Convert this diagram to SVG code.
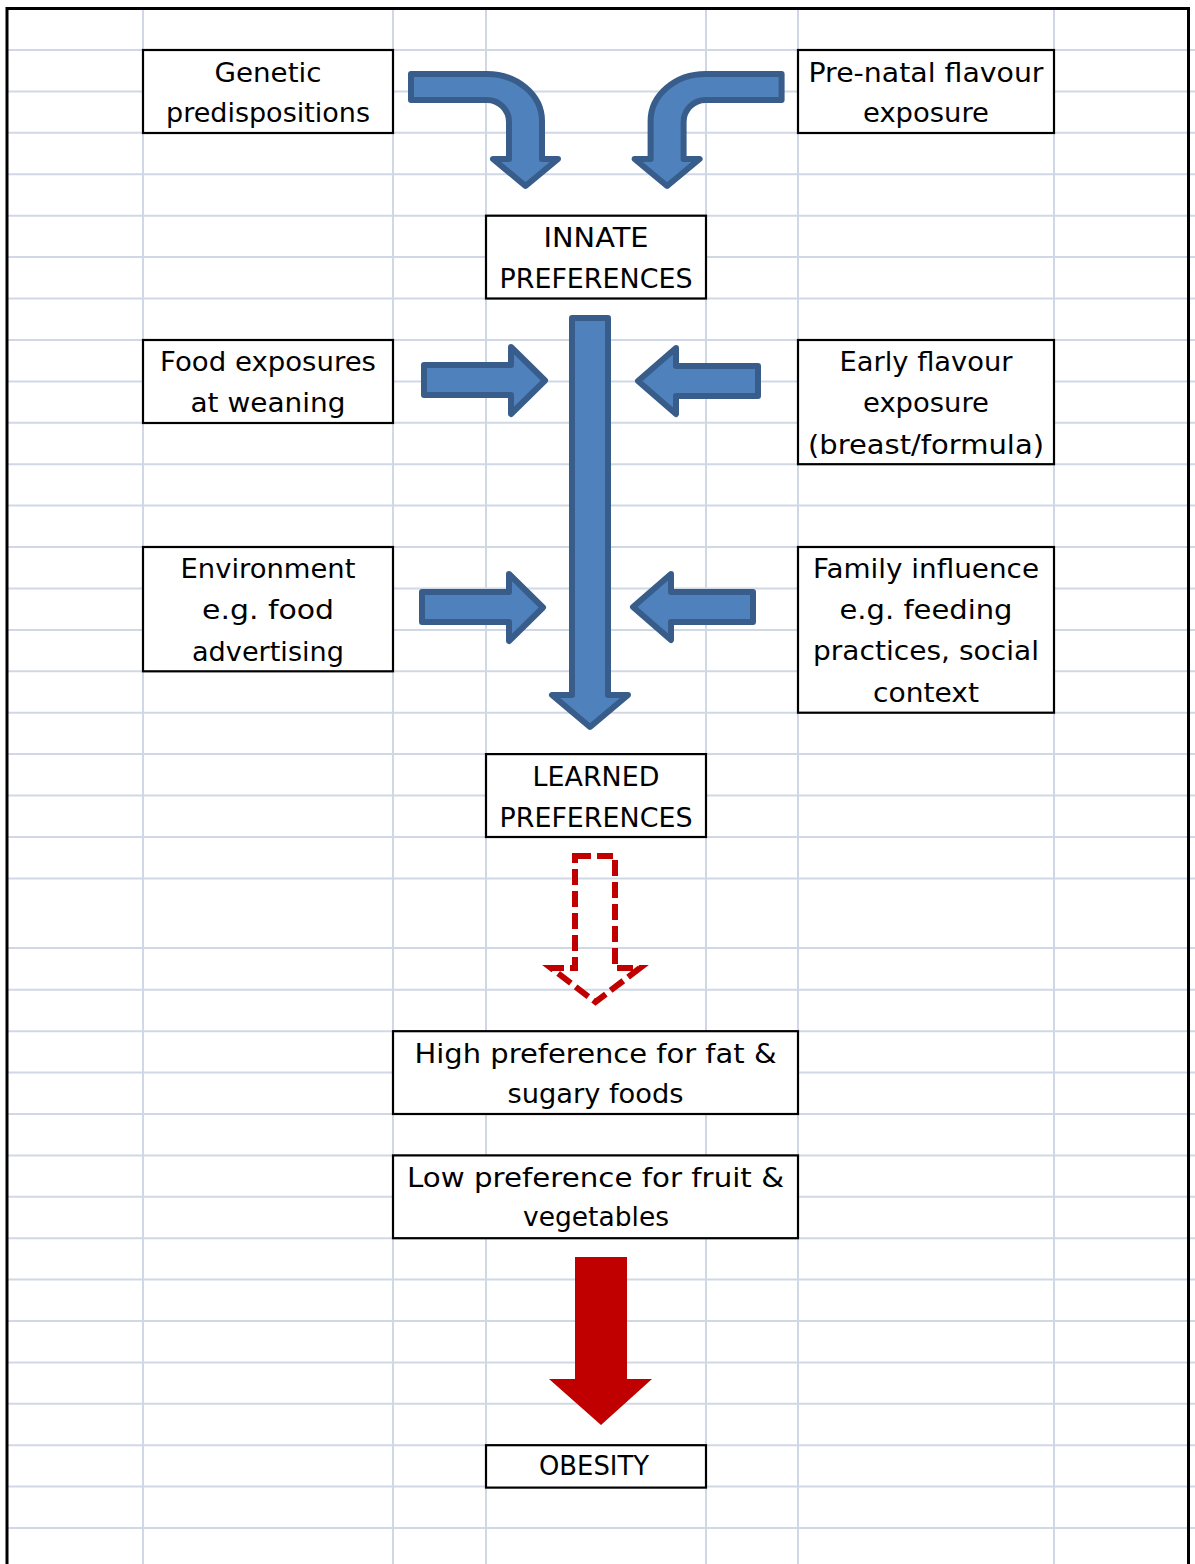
<svg xmlns="http://www.w3.org/2000/svg" width="1195" height="1564" viewBox="0 0 1195 1564">
  <style>
    .grid line { stroke: #D0D7E5; stroke-width: 2; }
    .frame { stroke: #000; stroke-width: 3; fill: none; }
    .box { fill: #fff; stroke: #000; stroke-width: 2.2; }
    .label { font-family: "DejaVu Sans", Verdana, sans-serif; font-size: 26px; fill: #000; text-anchor: middle; }
    .blue { fill: #4F81BD; stroke: #385D8A; stroke-width: 6; stroke-linejoin: round; }
    .dashed { fill: none; stroke: #C00000; stroke-width: 6; stroke-dasharray: 16 6; }
    .red { fill: #C00000; stroke: none; }
  </style>
  <defs>
    <path id="arrow-right" d="M424,365 H511 V347 L545,380.5 L511,414 V395 H424 Z"/>
    <path id="arrow-left" d="M758,366 H676 V348 L638,381 L676,414 V396 H758 Z"/>
    <path id="arrow-bent" d="M411,74 L487,74 A55,47 0 0 1 542,121 L542,159 L558,159 L525.5,186 L493,159 L509,159 L509,122 A22,22 0 0 0 487,100 L411,100 Z"/>
  </defs>

  <rect width="1195" height="1564" fill="#fff"/>

  <!-- sheet gridlines -->
  <g class="grid">
    <line x1="143" y1="8" x2="143" y2="1564"/>
    <line x1="393" y1="8" x2="393" y2="1564"/>
    <line x1="486" y1="8" x2="486" y2="1564"/>
    <line x1="706" y1="8" x2="706" y2="1564"/>
    <line x1="798" y1="8" x2="798" y2="1564"/>
    <line x1="1054" y1="8" x2="1054" y2="1564"/>
    <line x1="7" y1="50" x2="1195" y2="50"/>
    <line x1="7" y1="91.4" x2="1195" y2="91.4"/>
    <line x1="7" y1="132.8" x2="1195" y2="132.8"/>
    <line x1="7" y1="174.3" x2="1195" y2="174.3"/>
    <line x1="7" y1="215.7" x2="1195" y2="215.7"/>
    <line x1="7" y1="257.1" x2="1195" y2="257.1"/>
    <line x1="7" y1="298.5" x2="1195" y2="298.5"/>
    <line x1="7" y1="339.9" x2="1195" y2="339.9"/>
    <line x1="7" y1="381.4" x2="1195" y2="381.4"/>
    <line x1="7" y1="422.8" x2="1195" y2="422.8"/>
    <line x1="7" y1="464.2" x2="1195" y2="464.2"/>
    <line x1="7" y1="505.6" x2="1195" y2="505.6"/>
    <line x1="7" y1="547" x2="1195" y2="547"/>
    <line x1="7" y1="588.5" x2="1195" y2="588.5"/>
    <line x1="7" y1="629.9" x2="1195" y2="629.9"/>
    <line x1="7" y1="671.3" x2="1195" y2="671.3"/>
    <line x1="7" y1="712.7" x2="1195" y2="712.7"/>
    <line x1="7" y1="754.1" x2="1195" y2="754.1"/>
    <line x1="7" y1="795.6" x2="1195" y2="795.6"/>
    <line x1="7" y1="837" x2="1195" y2="837"/>
    <line x1="7" y1="878.4" x2="1195" y2="878.4"/>
    <line x1="7" y1="948" x2="1195" y2="948"/>
    <line x1="7" y1="989.8" x2="1195" y2="989.8"/>
    <line x1="7" y1="1031.2" x2="1195" y2="1031.2"/>
    <line x1="7" y1="1072.6" x2="1195" y2="1072.6"/>
    <line x1="7" y1="1114" x2="1195" y2="1114"/>
    <line x1="7" y1="1155.4" x2="1195" y2="1155.4"/>
    <line x1="7" y1="1196.8" x2="1195" y2="1196.8"/>
    <line x1="7" y1="1238.2" x2="1195" y2="1238.2"/>
    <line x1="7" y1="1279.6" x2="1195" y2="1279.6"/>
    <line x1="7" y1="1321" x2="1195" y2="1321"/>
    <line x1="7" y1="1362.4" x2="1195" y2="1362.4"/>
    <line x1="7" y1="1403.8" x2="1195" y2="1403.8"/>
    <line x1="7" y1="1445.2" x2="1195" y2="1445.2"/>
    <line x1="7" y1="1486.6" x2="1195" y2="1486.6"/>
    <line x1="7" y1="1528" x2="1195" y2="1528"/>
  </g>

  <!-- outer frame of the printed area -->
  <path class="frame" d="M7,1564 V8.5 H1188.5 V1564"/>

  <!-- connectors -->
  <g id="connectors">
    <use href="#arrow-bent" class="blue"/>
    <use href="#arrow-bent" class="blue" transform="translate(1192.6,0) scale(-1,1)"/>
    <path class="blue" d="M572,318 H608 V695 H628 L590,727 L552,695 H572 Z"/>
    <use href="#arrow-right" class="blue"/>
    <use href="#arrow-left" class="blue"/>
    <use href="#arrow-right" class="blue" transform="translate(-2,227)"/>
    <use href="#arrow-left" class="blue" transform="translate(-5,226)"/>
    <path class="dashed" d="M575,856 H615 V968 H640 L595.5,1002 L551,968 H575 Z"/>
    <path class="red" d="M575,1257 H627 V1379 H652 L601,1425 L549,1379 H575 Z"/>
  </g>

  <!-- nodes -->
  <g id="genetic">
    <rect class="box" x="143" y="50" width="250" height="83"/>
    <text class="label" x="268" y="81.5" textLength="107" lengthAdjust="spacingAndGlyphs">Genetic</text>
    <text class="label" x="268" y="121.5" textLength="204" lengthAdjust="spacingAndGlyphs">predispositions</text>
  </g>
  <g id="prenatal">
    <rect class="box" x="798" y="50" width="256" height="83"/>
    <text class="label" x="926" y="81.5" textLength="235" lengthAdjust="spacingAndGlyphs">Pre-natal flavour</text>
    <text class="label" x="926" y="121.5" textLength="126" lengthAdjust="spacingAndGlyphs">exposure</text>
  </g>
  <g id="innate">
    <rect class="box" x="486" y="215.7" width="220" height="82.8"/>
    <text class="label" x="596" y="247" textLength="105" lengthAdjust="spacingAndGlyphs">INNATE</text>
    <text class="label" x="596" y="287.5" textLength="193" lengthAdjust="spacingAndGlyphs">PREFERENCES</text>
  </g>
  <g id="food-exposures">
    <rect class="box" x="143" y="340" width="250" height="83"/>
    <text class="label" x="268" y="371" textLength="216" lengthAdjust="spacingAndGlyphs">Food exposures</text>
    <text class="label" x="268" y="412" textLength="155" lengthAdjust="spacingAndGlyphs">at weaning</text>
  </g>
  <g id="early-flavour">
    <rect class="box" x="798" y="340" width="256" height="124.2"/>
    <text class="label" x="926" y="371" textLength="173" lengthAdjust="spacingAndGlyphs">Early flavour</text>
    <text class="label" x="926" y="412.3" textLength="126" lengthAdjust="spacingAndGlyphs">exposure</text>
    <text class="label" x="926" y="453.6" textLength="236" lengthAdjust="spacingAndGlyphs">(breast/formula)</text>
  </g>
  <g id="environment">
    <rect class="box" x="143" y="547" width="250" height="124.3"/>
    <text class="label" x="268" y="578" textLength="175" lengthAdjust="spacingAndGlyphs">Environment</text>
    <text class="label" x="268" y="619.4" textLength="132" lengthAdjust="spacingAndGlyphs">e.g. food</text>
    <text class="label" x="268" y="660.8" textLength="152" lengthAdjust="spacingAndGlyphs">advertising</text>
  </g>
  <g id="family">
    <rect class="box" x="798" y="547" width="256" height="165.7"/>
    <text class="label" x="926" y="577.5" textLength="226" lengthAdjust="spacingAndGlyphs">Family influence</text>
    <text class="label" x="926" y="619" textLength="173" lengthAdjust="spacingAndGlyphs">e.g. feeding</text>
    <text class="label" x="926" y="660.4" textLength="226" lengthAdjust="spacingAndGlyphs">practices, social</text>
    <text class="label" x="926" y="701.8" textLength="106" lengthAdjust="spacingAndGlyphs">context</text>
  </g>
  <g id="learned">
    <rect class="box" x="486" y="754.1" width="220" height="82.9"/>
    <text class="label" x="596" y="786" textLength="127" lengthAdjust="spacingAndGlyphs">LEARNED</text>
    <text class="label" x="596" y="826.5" textLength="193" lengthAdjust="spacingAndGlyphs">PREFERENCES</text>
  </g>
  <g id="high-preference">
    <rect class="box" x="393" y="1031.2" width="405" height="82.8"/>
    <text class="label" x="595.5" y="1063.3" textLength="362" lengthAdjust="spacingAndGlyphs">High preference for fat &amp;</text>
    <text class="label" x="595.5" y="1102.7" textLength="176" lengthAdjust="spacingAndGlyphs">sugary foods</text>
  </g>
  <g id="low-preference">
    <rect class="box" x="393" y="1155.4" width="405" height="82.8"/>
    <text class="label" x="595.5" y="1186.7" textLength="377" lengthAdjust="spacingAndGlyphs">Low preference for fruit &amp;</text>
    <text class="label" x="596" y="1226" textLength="146" lengthAdjust="spacingAndGlyphs">vegetables</text>
  </g>
  <g id="obesity">
    <rect class="box" x="486" y="1445.2" width="220" height="42.4"/>
    <text class="label" x="594" y="1475" textLength="110" lengthAdjust="spacingAndGlyphs">OBESITY</text>
  </g>
</svg>
